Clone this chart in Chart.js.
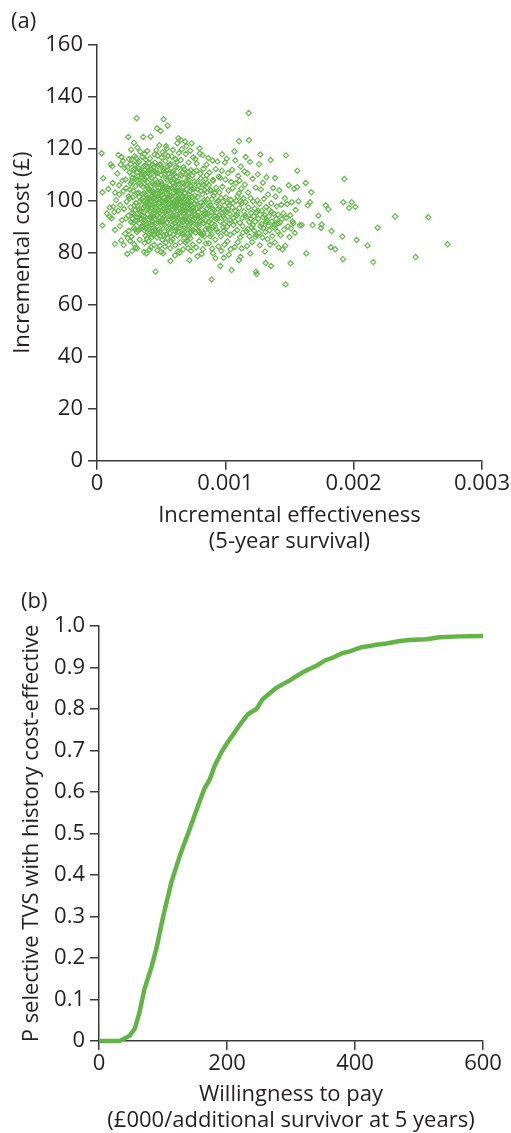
<!DOCTYPE html>
<html>
<head>
<meta charset="utf-8">
<script src="https://cdn.jsdelivr.net/npm/chart.js@4.4.1/dist/chart.umd.min.js"></script>
<style>
    html, body { margin: 0; padding: 0; background: #fff; }
    #wrap { position: relative; width: 511px; height: 1133px; }
    .panel { position: absolute; left: 0; width: 511px; }
    .tag { position: absolute; font: 22px 'Open Sans', sans-serif; line-height: 28px; color: #231f20; }
</style>
</head>
<body>
<div id="wrap">
    <div class="panel" style="top:0;height:565px"><canvas id="scatterChart" width="511" height="565"></canvas></div>
    <div class="panel" style="top:565px;height:568px"><canvas id="ceacChart" width="511" height="568"></canvas></div>
    <div class="tag" style="left:11px;top:5px">(a)</div>
    <div class="tag" style="left:21px;top:585px">(b)</div>
</div>
<script>
// --- Panel (a) data: PSA draws, [incremental effectiveness (x 0.001), incremental cost (£)] ---
const psaDraws = [
    // sparse left edge
    [0.036,118.2],[0.049,108.6],[0.042,103.2],[0.042,90.4],[0.088,104.5],[0.106,114.0],[0.119,113.2],[0.10,97.4],[0.10,93.8],
    [0.114,93.2],[0.14,103.1],[0.14,88.7],[0.14,83.3],[0.127,97.7],[0.135,95.6],[0.122,106.8],[0.148,100.2],[0.077,95.1],
    // 0.15 - 0.25
    [0.166,117.6],[0.192,116.8],[0.236,79.5],[0.244,124.5],[0.158,110.4],[0.172,105.9],[0.181,98.3],[0.195,92.5],[0.205,103.7],
    [0.214,112.6],[0.223,108.1],[0.231,99.6],[0.242,94.2],[0.248,88.4],[0.165,96.1],[0.178,90.2],[0.188,84.7],[0.202,115.3],
    [0.211,96.8],[0.219,87.3],[0.228,104.9],[0.237,112.9],[0.246,101.6],[0.174,102.4],[0.198,107.7],[0.208,82.9],[0.226,93.1],
    [0.239,85.6],[0.249,116.0],[0.185,113.9],
    // 0.25 - 0.35
    [0.288,122.3],[0.309,131.7],[0.253,110.8],[0.257,104.2],[0.261,97.5],[0.265,91.8],[0.268,86.1],[0.272,115.9],[0.276,108.7],
    [0.279,101.3],[0.283,95.0],[0.286,89.4],[0.29,83.2],[0.293,117.1],[0.297,112.4],[0.30,105.6],[0.303,99.1],[0.306,93.7],
    [0.31,87.9],[0.313,81.6],[0.317,114.5],[0.32,109.3],[0.323,103.0],[0.327,96.6],[0.33,91.2],[0.333,85.0],[0.337,118.8],
    [0.34,111.7],[0.343,106.1],[0.347,100.4],[0.35,94.4],[0.255,100.9],[0.262,114.1],[0.27,107.3],[0.278,93.2],[0.284,112.0],
    [0.291,98.2],[0.298,92.2],[0.305,116.4],[0.312,102.7],[0.318,97.9],[0.325,112.3],[0.331,106.8],[0.338,89.2],[0.345,96.0],
    [0.259,84.5],[0.274,80.6],[0.301,81.9],[0.321,88.6],[0.348,110.2],[0.266,119.6],[0.295,108.3],[0.315,120.4],[0.336,99.7],
    // 0.35 - 0.45
    [0.361,124.5],[0.418,124.6],[0.353,116.8],[0.356,110.9],[0.359,105.3],[0.362,99.8],[0.365,94.1],[0.368,88.6],[0.371,83.7],
    [0.374,113.4],[0.377,107.9],[0.38,102.2],[0.383,96.5],[0.386,91.0],[0.389,85.4],[0.392,119.1],[0.395,112.7],[0.398,104.8],
    [0.401,98.6],[0.404,92.9],[0.407,87.3],[0.41,81.1],[0.413,116.2],[0.416,109.8],[0.419,103.5],[0.422,97.2],[0.425,90.8],
    [0.428,85.9],[0.431,113.9],[0.434,107.1],[0.437,101.0],[0.44,95.3],[0.443,89.7],[0.446,83.0],[0.449,117.8],[0.357,97.1],
    [0.363,108.2],[0.369,102.9],[0.375,92.0],[0.381,115.7],[0.387,99.3],[0.393,94.8],[0.399,110.5],[0.405,104.0],[0.411,96.1],
    [0.417,90.3],[0.423,112.1],[0.429,101.8],[0.435,94.0],[0.441,106.3],[0.447,98.8],[0.352,89.9],[0.366,80.3],[0.384,79.7],
    [0.402,84.4],[0.42,82.1],[0.438,86.8],[0.37,118.0],[0.39,109.2],[0.408,100.4],[0.426,105.6],[0.444,111.4],[0.378,86.5],
    [0.396,90.1],[0.414,93.6],[0.432,88.2],[0.45,92.7],
    // 0.45 - 0.55
    [0.457,72.7],[0.519,131.3],[0.551,128.8],[0.468,127.8],[0.496,126.8],[0.538,121.0],[0.543,120.0],[0.452,114.6],[0.455,108.1],
    [0.458,102.5],[0.461,96.9],[0.464,91.4],[0.467,85.8],[0.47,80.9],[0.473,117.3],[0.476,110.6],[0.479,104.9],[0.482,99.2],
    [0.485,93.6],[0.488,88.0],[0.491,82.6],[0.494,114.0],[0.497,107.4],[0.5,101.7],[0.503,96.0],[0.506,90.5],[0.509,84.9],
    [0.512,118.6],[0.515,111.8],[0.518,105.1],[0.521,99.5],[0.524,93.9],[0.527,88.3],[0.53,82.4],[0.533,115.2],[0.536,108.7],
    [0.539,102.8],[0.542,97.1],[0.545,91.5],[0.548,85.6],[0.459,106.3],[0.465,100.2],[0.471,94.4],[0.477,113.2],[0.483,88.9],
    [0.489,101.0],[0.495,97.5],[0.501,109.9],[0.507,103.6],[0.513,92.1],[0.52,86.7],[0.526,110.3],[0.532,98.9],[0.538,94.7],
    [0.544,104.5],[0.55,100.8],[0.462,119.4],[0.486,121.3],[0.504,116.5],[0.529,117.9],[0.547,113.1],[0.474,87.4],[0.498,80.2],
    [0.516,79.8],[0.535,83.8],[0.48,96.4],[0.51,98.0],[0.453,89.1],
    // 0.55 - 0.65
    [0.626,122.1],[0.634,124.0],[0.652,123.3],[0.553,117.2],[0.556,110.5],[0.559,104.3],[0.562,98.6],[0.565,93.0],[0.568,87.4],
    [0.571,81.7],[0.574,114.1],[0.577,107.8],[0.58,102.0],[0.583,96.3],[0.586,90.7],[0.589,85.1],[0.592,119.5],[0.595,111.3],
    [0.598,105.2],[0.601,99.7],[0.604,94.1],[0.607,88.5],[0.61,82.8],[0.613,115.9],[0.616,109.1],[0.619,103.4],[0.622,97.8],
    [0.625,92.2],[0.628,86.6],[0.631,80.5],[0.634,112.6],[0.637,106.4],[0.64,100.9],[0.643,95.2],[0.646,89.6],[0.649,84.0],
    [0.557,96.0],[0.563,102.1],[0.569,108.9],[0.575,99.0],[0.581,93.3],[0.587,100.6],[0.593,96.7],[0.599,92.5],[0.605,101.5],
    [0.611,98.1],[0.617,94.6],[0.623,103.9],[0.629,100.0],[0.635,97.3],[0.641,91.0],[0.647,102.6],[0.56,89.3],[0.578,84.3],
    [0.596,86.9],[0.614,90.0],[0.632,88.1],[0.65,93.8],[0.566,113.7],[0.584,117.0],[0.602,110.2],[0.62,114.8],[0.638,118.3],
    [0.572,76.8],[0.608,78.9],[0.644,80.0],[0.59,106.9],[0.625,107.6],
    // 0.65 - 0.75
    [0.686,122.7],[0.72,77.1],[0.738,122.1],[0.653,115.6],[0.656,109.6],[0.659,103.9],[0.662,98.2],[0.665,92.6],[0.668,87.0],
    [0.671,81.3],[0.674,112.9],[0.677,106.6],[0.68,100.8],[0.683,95.1],[0.686,89.5],[0.689,83.9],[0.692,118.0],[0.695,110.0],
    [0.698,104.2],[0.701,98.5],[0.704,92.9],[0.707,87.3],[0.71,81.8],[0.713,114.7],[0.716,108.0],[0.719,102.3],[0.722,96.7],
    [0.725,91.1],[0.728,85.5],[0.731,111.7],[0.734,105.5],[0.737,99.8],[0.74,94.2],[0.743,88.6],[0.746,83.1],[0.749,116.6],
    [0.658,95.7],[0.664,101.3],[0.67,96.4],[0.676,92.0],[0.682,98.0],[0.688,102.9],[0.694,96.0],[0.7,91.8],[0.706,100.1],
    [0.712,95.5],[0.718,90.2],[0.724,99.2],[0.73,93.7],[0.736,88.0],[0.742,101.4],[0.748,97.1],[0.661,119.8],[0.697,121.0],
    [0.727,119.2],[0.679,85.7],[0.703,84.5],[0.733,80.7],[0.667,110.9],[0.709,109.4],
    // 0.75 - 0.85
    [0.753,110.9],[0.757,104.6],[0.761,98.9],[0.765,93.3],[0.769,87.7],[0.773,82.0],[0.777,114.3],[0.781,107.1],[0.785,101.4],
    [0.789,95.7],[0.793,90.1],[0.797,84.5],[0.801,118.1],[0.805,110.4],[0.809,103.7],[0.813,98.0],[0.817,92.4],[0.821,86.8],
    [0.825,81.3],[0.829,112.2],[0.833,105.9],[0.837,100.2],[0.841,94.6],[0.845,89.0],[0.849,83.5],[0.755,96.2],[0.763,91.0],
    [0.771,99.8],[0.779,93.9],[0.787,88.4],[0.795,97.8],[0.803,92.1],[0.811,87.1],[0.819,96.6],[0.827,91.4],[0.835,86.2],
    [0.843,99.5],[0.767,116.0],[0.799,120.1],[0.823,117.5],[0.783,78.6],[0.815,79.5],[0.847,108.2],
    // 0.85 - 0.95
    [0.894,69.7],[0.853,113.8],[0.857,106.9],[0.861,100.5],[0.865,94.8],[0.869,89.2],[0.873,83.6],[0.877,110.8],[0.881,104.1],
    [0.885,98.4],[0.889,92.7],[0.893,87.1],[0.897,81.5],[0.901,115.4],[0.905,107.6],[0.909,101.9],[0.913,96.2],[0.917,90.6],
    [0.921,85.0],[0.925,112.1],[0.929,105.0],[0.933,99.3],[0.937,93.6],[0.941,88.0],[0.945,82.4],[0.949,109.3],[0.859,97.0],
    [0.871,91.9],[0.883,86.3],[0.895,95.6],[0.907,90.0],[0.919,94.1],[0.931,88.8],[0.943,96.9],[0.867,116.4],[0.903,79.8],
    [0.939,115.0],[0.923,77.9],
    // 0.95 - 1.05
    [0.961,74.9],[1.049,73.3],[0.953,103.2],[0.957,97.5],[0.961,91.9],[0.965,86.3],[0.969,80.7],[0.973,111.5],[0.977,105.3],
    [0.981,99.6],[0.985,94.0],[0.989,88.4],[0.993,83.1],[0.997,114.7],[1.001,108.1],[1.005,101.2],[1.009,95.6],[1.013,90.0],
    [1.017,84.4],[1.021,110.6],[1.025,103.9],[1.029,98.2],[1.033,92.5],[1.037,86.9],[1.041,81.3],[1.045,107.2],[0.959,108.8],
    [0.971,95.1],[0.983,89.8],[0.995,93.2],[1.007,87.5],[1.019,96.8],[1.031,91.2],[1.043,100.3],[0.975,117.8],[1.011,116.1],
    [0.987,78.0],[1.027,79.2],
    // 1.05 - 1.15
    [1.106,77.1],[1.106,122.8],[1.053,111.9],[1.057,104.8],[1.061,99.1],[1.065,93.4],[1.069,87.8],[1.073,82.2],[1.077,115.5],
    [1.081,106.7],[1.085,100.0],[1.089,94.3],[1.093,88.7],[1.097,84.0],[1.101,109.5],[1.105,102.8],[1.109,97.1],[1.113,91.5],
    [1.117,85.9],[1.121,113.1],[1.125,104.6],[1.129,98.9],[1.133,93.3],[1.137,87.7],[1.141,100.9],[1.145,95.8],[1.063,90.6],
    [1.079,96.0],[1.095,101.7],[1.111,107.7],[1.127,81.6],[1.149,111.2],[1.071,119.0],[1.119,78.4],
    // 1.15 - 1.25
    [1.182,133.7],[1.184,123.2],[1.239,72.7],[1.244,71.8],[1.153,106.2],[1.157,99.4],[1.161,93.7],[1.165,88.1],[1.169,82.5],
    [1.173,110.5],[1.177,103.1],[1.181,97.4],[1.185,91.8],[1.189,86.2],[1.193,114.9],[1.197,101.0],[1.201,95.3],[1.205,89.7],
    [1.209,84.1],[1.213,108.4],[1.217,99.7],[1.221,94.0],[1.225,88.4],[1.229,97.0],[1.233,91.9],[1.237,105.0],[1.241,86.9],
    [1.245,95.4],[1.159,116.8],[1.195,79.7],[1.249,100.1],
    // 1.25 - 1.35
    [1.273,117.7],[1.253,110.1],[1.257,93.1],[1.261,87.5],[1.265,98.8],[1.269,82.8],[1.277,104.3],[1.281,91.0],[1.285,96.1],
    [1.289,85.8],[1.293,106.9],[1.297,89.4],[1.301,100.7],[1.305,94.5],[1.309,80.4],[1.313,87.9],[1.317,97.6],[1.321,109.0],
    [1.325,92.4],[1.329,85.2],[1.333,102.4],[1.337,90.3],[1.341,96.5],[1.345,88.6],[1.349,83.0],[1.263,114.0],[1.315,76.0],
    // 1.35 - 1.45
    [1.353,115.6],[1.356,74.9],[1.358,99.0],[1.363,92.0],[1.367,86.4],[1.372,104.9],[1.377,95.0],[1.381,89.8],[1.386,83.9],
    [1.391,101.6],[1.396,92.9],[1.401,97.8],[1.406,88.2],[1.411,94.6],[1.416,82.0],[1.421,104.0],[1.426,91.6],[1.431,86.7],
    [1.436,98.4],[1.441,93.0],[1.446,81.2],[1.388,108.7],
    // 1.45 - 1.55
    [1.47,67.8],[1.509,75.9],[1.473,117.4],[1.453,95.1],[1.458,88.9],[1.464,100.9],[1.468,82.7],[1.476,93.4],[1.482,98.7],
    [1.488,90.1],[1.494,105.9],[1.5,86.0],[1.506,94.4],[1.512,89.3],[1.518,99.4],[1.524,92.0],[1.53,91.3],[1.536,104.6],
    [1.542,87.6],[1.548,96.4],
    // right tail
    [1.561,111.5],[1.56,105.2],[1.57,99.8],[1.58,90.5],[1.595,90.6],[1.626,106.8],[1.631,79.7],[1.642,98.2],[1.66,99.4],
    [1.68,90.6],[1.67,103.2],[1.725,94.2],[1.751,90.8],[1.746,89.5],[1.782,98.2],[1.803,96.7],[1.828,88.3],[1.821,82.1],
    [1.857,81.3],[1.912,86.2],[1.917,77.5],[1.928,108.3],[1.92,99.4],[1.965,97.2],[1.985,99.4],[2.014,97.6],[2.024,84.9],
    [2.109,82.7],[2.153,76.4],[2.187,89.6],[2.323,93.9],[2.483,78.3],[2.582,93.6],[2.733,83.2],
    // dense core, lower half
    [0.27,95.3],[0.286,91.5],[0.302,88.9],[0.318,93.4],[0.334,95.7],[0.35,90.3],[0.366,92.7],[0.382,89.2],[0.398,96.9],[0.414,87.9],
    [0.43,92.1],[0.446,94.9],[0.462,88.3],[0.478,91.8],[0.494,86.4],[0.51,93.1],[0.526,90.7],[0.542,87.1],[0.558,92.6],[0.574,89.6],
    [0.59,94.3],[0.606,91.3],[0.622,88.9],[0.638,93.0],[0.654,90.5],[0.67,87.6],[0.686,92.9],[0.702,89.1],[0.718,86.5],[0.734,91.7],
    [0.75,88.7],[0.766,94.5],[0.782,90.8],[0.798,88.0],[0.814,93.8],[0.83,87.4],[0.846,95.3],[0.862,90.4],[0.878,88.6],[0.894,91.2],
    // dense core, upper half
    [0.28,110.2],[0.296,113.6],[0.312,107.8],[0.328,115.0],[0.344,109.0],[0.36,113.1],[0.376,110.3],[0.392,107.1],[0.408,114.4],[0.424,108.8],
    [0.44,112.8],[0.456,110.9],[0.472,107.0],[0.488,113.8],[0.504,106.6],[0.52,112.4],[0.536,105.4],[0.552,111.7],[0.568,106.1],[0.584,110.8],
    [0.6,108.3],[0.616,112.9],[0.632,107.3],[0.648,110.1],[0.664,106.9],[0.68,112.1],[0.696,107.6],[0.712,111.0],[0.728,106.0],[0.744,109.7],
    [0.76,107.4],[0.776,111.6],[0.792,105.8],[0.808,108.6],[0.824,106.3],[0.84,104.1],[0.856,109.8],[0.872,106.0],[0.888,103.9],[0.904,108.0],
    // dense core, middle
    [0.262,106.5],[0.281,103.8],[0.299,96.4],[0.314,110.9],[0.328,101.5],[0.341,93.0],[0.355,102.6],[0.372,97.8],[0.388,105.5],[0.403,111.8],
    [0.415,99.9],[0.427,93.4],[0.439,103.1],[0.451,97.6],[0.463,110.4],[0.475,103.7],[0.487,95.3],[0.499,92.0],[0.511,105.9],[0.523,101.2],
    [0.534,95.8],[0.546,108.0],[0.558,100.3],[0.57,95.2],[0.582,104.8],[0.594,99.1],[0.606,105.7],[0.618,99.0],[0.63,95.9],[0.642,104.0],
    [0.654,99.5],[0.666,105.0],[0.678,97.3],[0.69,93.9],[0.702,106.4],[0.714,98.8],[0.726,103.6],[0.738,96.3],[0.75,92.4],[0.762,101.9],
    [0.774,96.9],[0.786,104.3],[0.798,93.6],[0.81,99.2],[0.822,102.5],[0.834,95.0],[0.846,92.3],[0.858,103.3],[0.87,97.9],[0.882,94.2],
    [0.894,100.6],[0.906,96.8],[0.918,103.0],[0.93,92.9],[0.942,99.9],[0.954,94.6],[0.966,101.0],[0.978,97.0],[0.99,91.0],[1.002,96.3],
    [0.405,100.9],[0.418,98.3],[0.433,103.8],[0.447,101.4],[0.46,99.0],[0.472,102.7],[0.484,100.5],[0.497,103.4],[0.509,99.6],[0.522,96.7],
    [0.535,100.1],[0.548,102.3],[0.561,97.5],[0.573,101.8],[0.585,98.0],[0.597,102.8],[0.609,97.2],[0.621,100.7],[0.633,103.2],[0.645,98.6],
    [0.657,101.7],[0.669,99.2],[0.681,103.0],[0.693,100.4],[0.705,97.0],[0.717,101.1],[0.729,98.1],[0.741,104.4],[0.392,101.0],[0.38,98.8],
    [1.015,99.0],[1.035,94.9],[1.055,97.3],[1.075,92.1],[1.095,95.0],[1.115,99.6],[1.135,90.2],[1.155,94.4],[1.175,89.0],[1.195,93.0],
    [1.215,90.6],[1.235,86.0],[1.255,96.0],[1.275,90.0],[1.295,93.6],[1.318,91.8],[1.338,94.0],[1.36,95.6],[1.385,90.7],[1.41,91.2]
];
const effTicks = [0, 0.001, 0.002, 0.003];

// --- Panel (b) data: acceptability curve ---
const wtp = [0, 20, 32, 40, 48, 56, 63, 71, 82, 90, 100, 113, 126, 142, 155, 165, 173, 181, 191, 199,
    209, 220, 233, 246, 256, 277, 298, 319, 342, 353, 366, 379, 392, 410, 420, 433, 449, 470, 485, 511, 532, 564, 600];
const probCE = [0, 0, 0, 0.006, 0.013, 0.03, 0.067, 0.125, 0.178, 0.225, 0.298, 0.382, 0.445, 0.512, 0.568, 0.609, 0.63, 0.664, 0.695, 0.715,
    0.737, 0.762, 0.788, 0.80, 0.824, 0.851, 0.869, 0.889, 0.906, 0.917, 0.924, 0.934, 0.939, 0.949, 0.951, 0.955, 0.958, 0.964, 0.966, 0.968, 0.973, 0.975, 0.976];

Chart.defaults.font.family = "'Open Sans', sans-serif";
Chart.defaults.font.size = 22;
Chart.defaults.color = '#231f20';

const axisColor = '#3a3a3a';
const green = '#63b446';

function axisStyle() {
    return {
        grid: { display: true, drawOnChartArea: false, drawTicks: true, tickLength: 9, color: axisColor, lineWidth: 1.5 },
        border: { display: true, color: axisColor, width: 1.5 }
    };
}

// (a) cost-effectiveness plane
new Chart(document.getElementById('scatterChart'), {
    type: 'scatter',
    data: {
        datasets: [{
            data: psaDraws.map(p => ({ x: p[0] * 0.001, y: p[1] })),
            pointStyle: 'rectRot',
            pointRadius: 2.6,
            borderWidth: 1.25,
            borderColor: 'rgba(100, 182, 74, 0.95)',
            backgroundColor: 'rgba(0,0,0,0)'
        }]
    },
    options: {
        responsive: false,
        animation: false,
        events: [],
        layout: { padding: { top: 44.6, right: 29, bottom: 0, left: 0 } },
        plugins: { legend: { display: false }, tooltip: { enabled: false } },
        scales: {
            x: {
                type: 'linear', min: 0, max: 0.003,
                afterBuildTicks: scale => { scale.ticks = effTicks.map(v => ({ value: v })); },
                afterFit: scale => { scale.height = 104.3; },
                ticks: { padding: 1, callback: v => v === 0 ? '0' : v.toFixed(3) },
                title: {
                    display: true,
                    text: ['Incremental effectiveness', '(5-year survival)'],
                    font: { size: 22, lineHeight: 1.2 },
                    padding: { top: 0, bottom: 10 }
                },
                ...axisStyle()
            },
            y: {
                min: 0, max: 160,
                afterFit: scale => { scale.width = 97; },
                ticks: { stepSize: 20, padding: 5 },
                title: {
                    display: true,
                    text: 'Incremental cost (£)',
                    font: { size: 22, lineHeight: 1.2 },
                    padding: { top: 10, bottom: 0 }
                },
                ...axisStyle()
            }
        }
    }
});

// (b) cost-effectiveness acceptability curve
new Chart(document.getElementById('ceacChart'), {
    type: 'line',
    data: {
        datasets: [{
            data: wtp.map((w, i) => ({ x: w, y: probCE[i] })),
            borderColor: green,
            borderWidth: 4.5,
            pointRadius: 0,
            tension: 0,
            clip: 6
        }]
    },
    options: {
        responsive: false,
        animation: false,
        events: [],
        layout: { padding: { top: 61, right: 28, bottom: 0, left: 0 } },
        plugins: { legend: { display: false }, tooltip: { enabled: false } },
        scales: {
            x: {
                type: 'linear', min: 0, max: 600,
                afterFit: scale => { scale.height = 92; },
                ticks: { stepSize: 200, padding: 1 },
                title: {
                    display: true,
                    text: ['Willingness to pay', '(£000/additional survivor at 5 years)'],
                    font: { size: 22, lineHeight: 1.18 },
                    padding: { top: 0, bottom: -1 }
                },
                ...axisStyle()
            },
            y: {
                min: 0, max: 1,
                afterFit: scale => { scale.width = 99; },
                ticks: { stepSize: 0.1, padding: 5, callback: v => v === 0 ? '0' : v.toFixed(1) },
                title: {
                    display: true,
                    text: 'P selective TVS with history cost-effective',
                    font: { size: 22, lineHeight: 1.2 },
                    padding: { top: 19, bottom: 0 }
                },
                ...axisStyle()
            }
        }
    }
});
</script>
</body>
</html>
